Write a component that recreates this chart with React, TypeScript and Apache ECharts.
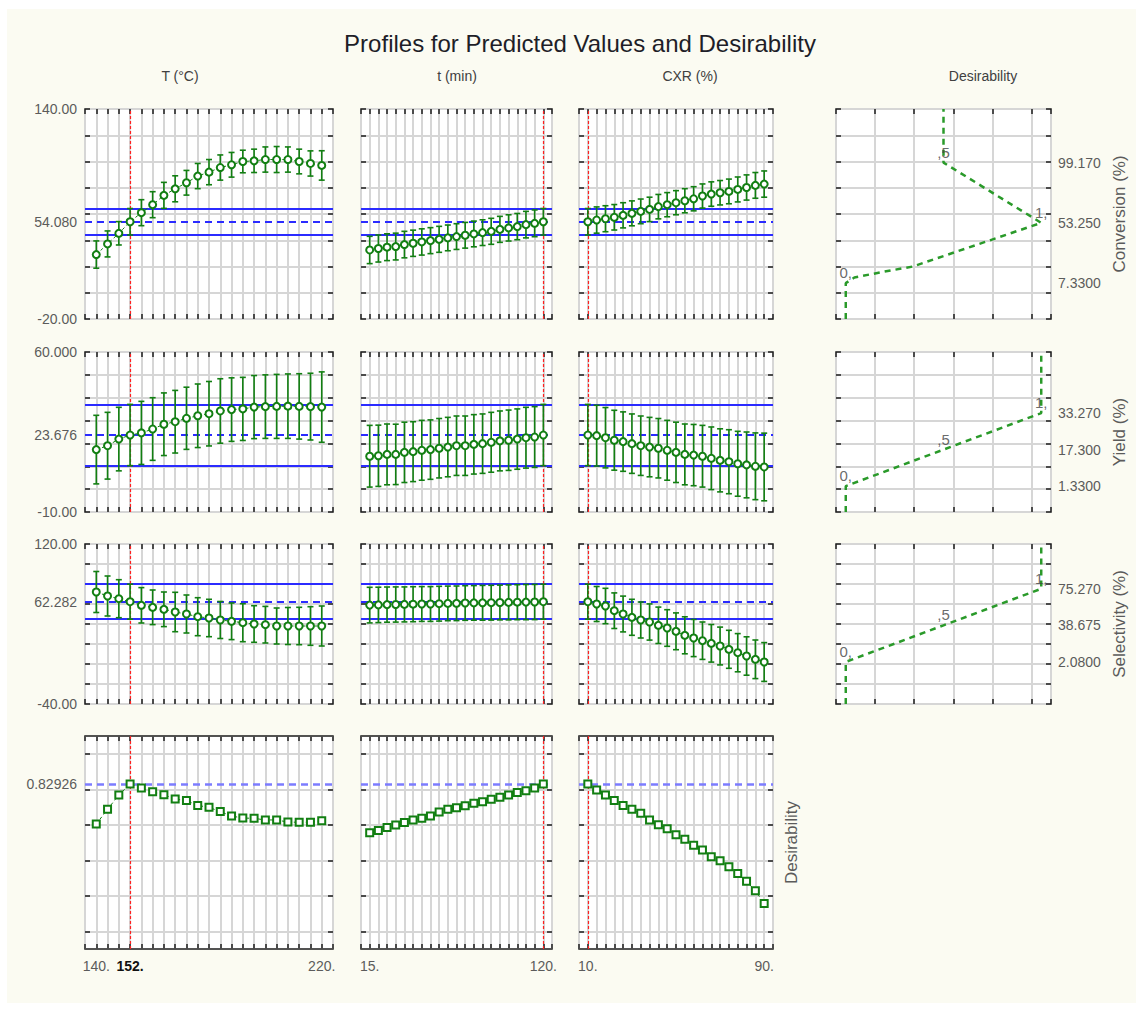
import React, { useEffect, useRef } from 'react';
import * as echarts from 'echarts';

// ---------- factor levels (x values) ----------
const T_LEVELS = [140, 144, 148, 152, 156, 160, 164, 168, 172, 176, 180, 184, 188, 192, 196, 200, 204, 208, 212, 216, 220];
const TIME_LEVELS = [15, 20.25, 25.5, 30.75, 36, 41.25, 46.5, 51.75, 57, 62.25, 67.5, 72.75, 78, 83.25, 88.5, 93.75, 99, 104.25, 109.5, 114.75, 120];
const CXR_LEVELS = [10, 14, 18, 22, 26, 30, 34, 38, 42, 46, 50, 54, 58, 62, 66, 70, 74, 78, 82, 86, 90];

// ---------- Conversion (%) ----------
const CONV_VS_T = [29.1, 37.2, 45.3, 54.08, 61.0, 67.1, 74.2, 79.2, 83.8, 88.9, 91.9, 95.4, 97.5, 100.0, 100.5, 101.5, 101.5, 101.5, 100.0, 98.5, 97.0];
const CONV_VS_T_ERR = [10.4, 9.9, 8.9, 10.1, 9.9, 9.9, 9.9, 9.9, 9.4, 9.6, 9.6, 9.6, 9.4, 8.6, 8.9, 9.6, 9.9, 9.6, 9.4, 9.6, 11.2];
const CONV_VS_TIME = [32.6, 33.7, 34.7, 35.2, 36.7, 37.7, 38.7, 39.7, 40.7, 41.8, 42.8, 43.8, 44.8, 45.8, 46.8, 48.3, 49.4, 50.4, 51.9, 52.9, 54.08];
const CONV_VS_TIME_ERR = [10.4, 10.3, 10.2, 10.2, 10.1, 10.0, 10.0, 9.9, 9.9, 9.8, 9.8, 9.8, 9.8, 9.8, 9.9, 9.9, 10.0, 10.0, 10.1, 10.2, 10.1];
const CONV_VS_CXR = [54.08, 55.4, 56.4, 57.5, 59.0, 60.5, 62.0, 63.5, 65.6, 67.1, 68.6, 70.1, 71.6, 73.7, 75.2, 76.2, 77.2, 78.7, 80.2, 81.8, 82.8];
const CONV_VS_CXR_ERR = [10.1, 10.0, 9.9, 9.7, 9.6, 9.5, 9.4, 9.3, 9.3, 9.2, 9.2, 9.2, 9.2, 9.2, 9.3, 9.3, 9.4, 9.5, 9.6, 9.8, 10.0];

// ---------- Yield (%) ----------
const YIELD_VS_T = [17.3, 19.0, 21.9, 23.676, 24.6, 26.3, 28.4, 29.5, 31.0, 32.1, 33.0, 34.2, 34.8, 35.1, 35.9, 36.1, 36.2, 36.3, 36.2, 36.1, 35.9];
const YIELD_VS_T_ERR = [15.0, 14.6, 13.9, 13.4, 13.8, 13.7, 13.7, 13.7, 13.6, 13.9, 14.1, 14.1, 13.9, 13.8, 13.8, 13.9, 14.0, 14.1, 14.3, 14.6, 15.4];
const YIELD_VS_TIME = [14.4, 14.6, 15.2, 15.2, 16.1, 16.4, 17.0, 17.3, 17.9, 18.4, 19.0, 19.0, 19.6, 19.9, 20.5, 21.1, 21.4, 21.9, 22.5, 22.8, 23.676];
const YIELD_VS_TIME_ERR = [13.5, 13.4, 13.3, 13.2, 13.2, 13.1, 13.1, 13.0, 13.0, 13.0, 13.0, 13.0, 13.0, 13.0, 13.1, 13.1, 13.2, 13.2, 13.3, 13.3, 13.4];
const YIELD_VS_CXR = [23.676, 23.4, 22.5, 21.4, 20.8, 19.9, 19.0, 18.4, 17.9, 17.0, 16.1, 15.2, 14.9, 14.4, 13.5, 12.6, 12.0, 11.1, 10.6, 10.0, 9.7];
const YIELD_VS_CXR_ERR = [13.4, 13.3, 13.2, 13.1, 13.0, 13.0, 13.0, 13.0, 13.0, 13.1, 13.2, 13.3, 13.4, 13.5, 13.7, 13.8, 14.0, 14.2, 14.4, 14.6, 14.8];

// ---------- Selectivity (%) ----------
const SEL_VS_T = [72.0, 68.0, 65.3, 62.282, 58.7, 56.7, 54.7, 52.0, 50.0, 47.3, 46.0, 44.0, 42.7, 41.3, 40.0, 39.3, 38.0, 38.0, 38.0, 38.0, 38.0];
const SEL_VS_T_ERR = [20.5, 20.0, 19.0, 17.5, 17.7, 17.3, 17.3, 19.7, 19.0, 19.0, 18.7, 18.5, 18.3, 19.0, 18.3, 18.3, 18.0, 18.5, 18.7, 19.3, 20.0];
const SEL_VS_TIME = [58.9, 59.1, 59.4, 59.5, 59.6, 59.8, 60.0, 60.0, 60.3, 60.6, 60.7, 61.0, 61.1, 61.2, 61.3, 61.5, 61.6, 61.8, 61.9, 62.0, 62.282];
const SEL_VS_TIME_ERR = [17.8, 17.7, 17.6, 17.6, 17.5, 17.5, 17.4, 17.4, 17.4, 17.3, 17.3, 17.3, 17.3, 17.4, 17.4, 17.4, 17.5, 17.5, 17.6, 17.6, 17.5];
const SEL_VS_CXR = [62.282, 60.0, 58.0, 53.3, 50.0, 46.7, 44.0, 42.0, 38.7, 36.0, 32.7, 28.7, 26.0, 23.3, 20.7, 18.0, 14.7, 11.3, 8.0, 4.7, 2.0];
const SEL_VS_CXR_ERR = [17.5, 17.5, 17.7, 17.8, 17.9, 18.0, 18.0, 18.1, 18.2, 18.3, 18.4, 18.5, 18.6, 18.7, 18.8, 18.9, 19.0, 19.1, 19.2, 19.3, 19.4];

// ---------- Overall desirability ----------
const DES_VS_T = [0.604, 0.687, 0.768, 0.82926, 0.807, 0.786, 0.769, 0.745, 0.736, 0.709, 0.698, 0.674, 0.649, 0.638, 0.636, 0.627, 0.627, 0.615, 0.614, 0.614, 0.623];
const DES_VS_TIME = [0.555, 0.567, 0.585, 0.599, 0.612, 0.627, 0.636, 0.649, 0.672, 0.687, 0.696, 0.707, 0.721, 0.730, 0.743, 0.755, 0.768, 0.781, 0.792, 0.807, 0.82926];
const DES_VS_CXR = [0.82926, 0.796, 0.768, 0.736, 0.709, 0.687, 0.665, 0.627, 0.600, 0.578, 0.544, 0.518, 0.484, 0.458, 0.420, 0.397, 0.364, 0.326, 0.281, 0.228, 0.157];

// ---------- current settings / predictions ----------
const FACTOR_NAMES = ['T (°C)', 't (min)', 'CXR (%)'];
const RESPONSE_NAMES = ['Conversion (%)', 'Yield (%)', 'Selectivity (%)'];
const CURRENT_SETTINGS = [152, 120, 10];
const PREDICTED = [54.08, 23.676, 62.282, 0.82926];
const CI_LOW = [44.0, 10.3, 44.8];
const CI_HIGH = [64.2, 37.1, 79.8];

// ---------- axes ----------
const X_MIN = [136, 9.75, 6];
const X_MAX = [224, 125.25, 94];
const X_STEP = [4, 5.25, 4];
const X_LABELS = [[140, 152, 220], [15, 120], [10, 90]];
const Y_MIN = [-20, -10, -40, -0.1];
const Y_MAX = [140, 60, 120, 1.1];
const Y_STEP = [20, 10, 20];
const DES_GRID_VALUES = [0, 0.2, 0.4, 0.6, 0.8, 1.0];

// ---------- desirability functions (desirability, response) ----------
const DESIR_LOW = [7.33, 1.33, 2.08];
const DESIR_MID = [53.25, 17.3, 38.675];
const DESIR_HIGH = [99.17, 33.27, 75.27];
const DESIR_CONV_CURVE = [[0, -20], [0, 7.33], [0.044, 11.6], [0.19, 15.9], [0.343, 20.0], [1, 53.25], [0.5, 99.17], [0.5, 140]];
const DESIR_YIELD_CURVE = [[0, -10], [0, 1.33], [0.5, 17.3], [1, 33.27], [1, 60]];
const DESIR_SEL_CURVE = [[0, -40], [0, 2.08], [0.5, 38.675], [1, 75.27], [1, 120]];
const DESIR_CONV_ANCHORS = [[0, 7.33, '0,'], [1, 53.25, '1,'], [0.5, 99.17, ',5']];
const DESIR_YIELD_ANCHORS = [[0, 1.33, '0,'], [0.5, 17.3, ',5'], [1, 33.27, '1,']];
const DESIR_SEL_ANCHORS = [[0, 2.08, '0,'], [0.5, 38.675, ',5'], [1, 75.27, '1,']];

// ---------- layout ----------
const OFF_X = 7;
const OFF_Y = 9;
const COL_LEFT = [85, 361, 579, 836];
const COL_WIDTH = [248, 191, 194, 215];
const ROW_TOP = [109, 352, 544, 736];
const ROW_HEIGHT = [210, 160, 160, 213];
const HEADER_CENTER = [180, 457, 690, 983];

const FONT = "'Liberation Sans', Arial, sans-serif";
const GREEN = '#127f12';
const BLUE = '#2b2bff';
const LIGHT_BLUE = '#7c7cff';
const RED = '#ff2020';
const GRID_LINE = '#d6d6d6';
const FRAME = '#1c1c1c';
const LABEL = '#5b5b5b';

const fmt = (v: number) => (v < 0 ? v.toPrecision(4) : v.toPrecision(5));

const LEVELS = [T_LEVELS, TIME_LEVELS, CXR_LEVELS];
const VALUES = [
  [CONV_VS_T, CONV_VS_TIME, CONV_VS_CXR],
  [YIELD_VS_T, YIELD_VS_TIME, YIELD_VS_CXR],
  [SEL_VS_T, SEL_VS_TIME, SEL_VS_CXR],
  [DES_VS_T, DES_VS_TIME, DES_VS_CXR],
];
const ERRORS = [
  [CONV_VS_T_ERR, CONV_VS_TIME_ERR, CONV_VS_CXR_ERR],
  [YIELD_VS_T_ERR, YIELD_VS_TIME_ERR, YIELD_VS_CXR_ERR],
  [SEL_VS_T_ERR, SEL_VS_TIME_ERR, SEL_VS_CXR_ERR],
];
const DESIR_CURVES = [DESIR_CONV_CURVE, DESIR_YIELD_CURVE, DESIR_SEL_CURVE];
const DESIR_ANCHORS = [DESIR_CONV_ANCHORS, DESIR_YIELD_ANCHORS, DESIR_SEL_ANCHORS];

const tickStyle = { show: true, inside: true, length: 5, lineStyle: { color: FRAME, width: 1.5 } };
const noLine = { show: false, onZero: false };

function buildOption() {
  const grid: any[] = [];
  const xAxis: any[] = [];
  const yAxis: any[] = [];
  const series: any[] = [];
  const title: any[] = [];

  title.push({
    text: 'Profiles for Predicted Values and Desirability',
    left: 580 - OFF_X,
    top: 31 - OFF_Y,
    textAlign: 'center',
    padding: 0,
    textStyle: { fontFamily: FONT, fontSize: 24, fontWeight: 'normal', color: '#1e1e28' },
  });
  const headers = [...FACTOR_NAMES, 'Desirability'];
  headers.forEach((h, i) => {
    title.push({
      text: h,
      left: HEADER_CENTER[i] - OFF_X,
      top: 69 - OFF_Y,
      textAlign: 'center',
      padding: 0,
      textStyle: { fontFamily: FONT, fontSize: 14, fontWeight: 'normal', color: '#404040' },
    });
  });

  const addGrid = (r: number, c: number) => {
    grid.push({
      left: COL_LEFT[c] - OFF_X,
      top: ROW_TOP[r] - OFF_Y,
      width: COL_WIDTH[c],
      height: ROW_HEIGHT[r],
      show: true,
      backgroundColor: '#ffffff',
      borderColor: FRAME,
      borderWidth: 1.5,
    });
    return grid.length - 1;
  };

  // ---------- profile panels ----------
  for (let r = 0; r < 4; r++) {
    for (let c = 0; c < 3; c++) {
      const g = addGrid(r, c);
      const xi = xAxis.length;
      const isBottom = r === 3;
      xAxis.push({
        type: 'value', gridIndex: g, min: X_MIN[c], max: X_MAX[c], interval: X_STEP[c],
        axisLine: noLine, axisTick: tickStyle,
        splitLine: { show: true, lineStyle: { color: GRID_LINE, width: 2 } },
        axisLabel: isBottom
          ? {
              show: true, customValues: X_LABELS[c], margin: 10, fontFamily: FONT, fontSize: 14, color: LABEL,
              formatter: (v: number) => (v === CURRENT_SETTINGS[c] && X_LABELS[c].length === 3 ? `{b|${v}.}` : `${v}.`),
              rich: { b: { fontFamily: FONT, fontSize: 14, fontWeight: 'bold', color: '#111' } },
            }
          : { show: false },
      });
      xAxis.push({
        type: 'value', gridIndex: g, position: 'top', min: X_MIN[c], max: X_MAX[c], interval: X_STEP[c],
        axisLine: noLine, axisTick: tickStyle, splitLine: { show: false }, axisLabel: { show: false },
      });
      const yi = yAxis.length;
      const yBase: any = { type: 'value', gridIndex: g, min: Y_MIN[r], max: Y_MAX[r] };
      if (r < 3) yBase.interval = Y_STEP[r];
      const tick = r < 3 ? tickStyle : { ...tickStyle, customValues: DES_GRID_VALUES };
      yAxis.push({
        ...yBase,
        axisLine: noLine, axisTick: tick,
        splitLine: { show: true, lineStyle: { color: GRID_LINE, width: 2 } },
        axisLabel: c === 0
          ? {
              show: true, margin: 8, fontFamily: FONT, fontSize: 14, color: LABEL,
              customValues: r < 3 ? [Y_MIN[r], PREDICTED[r], Y_MAX[r]] : [PREDICTED[3]],
              formatter: (v: number) => fmt(v),
            }
          : { show: false },
      });
      const rightY: any = {
        ...yBase, position: 'right',
        axisLine: noLine, axisTick: tick, splitLine: { show: false }, axisLabel: { show: false },
      };
      if (r === 3 && c === 2) {
        rightY.name = 'Desirability';
        rightY.nameLocation = 'middle';
        rightY.nameGap = 10;
        rightY.nameRotate = 90;
        rightY.nameTextStyle = { fontFamily: FONT, fontSize: 17, color: LABEL };
      }
      yAxis.push(rightY);

      const xs = LEVELS[c];
      const vals = VALUES[r][c];
      const markData: any[] = [];
      if (r < 3) {
        markData.push({ yAxis: CI_LOW[r], lineStyle: { color: BLUE, width: 2, type: 'solid' } });
        markData.push({ yAxis: CI_HIGH[r], lineStyle: { color: BLUE, width: 2, type: 'solid' } });
        markData.push({ yAxis: PREDICTED[r], lineStyle: { color: BLUE, width: 2, type: [7, 5] } });
      } else {
        markData.push({ yAxis: PREDICTED[3], lineStyle: { color: LIGHT_BLUE, width: 2.5, type: [7, 5] } });
      }
      markData.push({ xAxis: CURRENT_SETTINGS[c], lineStyle: { color: RED, width: 1.2, type: [3, 2] } });

      if (r < 3) {
        const errs = ERRORS[r][c];
        series.push({
          type: 'custom', xAxisIndex: xi, yAxisIndex: yi, z: 4, silent: true,
          data: xs.map((x, i) => [x, vals[i] - errs[i], vals[i] + errs[i]]),
          encode: { x: 0, y: [1, 2] },
          renderItem: (params: any, api: any) => {
            const x = api.value(0);
            const top = api.coord([x, api.value(2)]);
            const bot = api.coord([x, api.value(1)]);
            const cap = 3;
            const style = { stroke: GREEN, lineWidth: 1.6, fill: 'none' };
            return {
              type: 'group',
              children: [
                { type: 'line', shape: { x1: top[0], y1: top[1], x2: bot[0], y2: bot[1] }, style },
                { type: 'line', shape: { x1: top[0] - cap, y1: top[1], x2: top[0] + cap, y2: top[1] }, style },
                { type: 'line', shape: { x1: bot[0] - cap, y1: bot[1], x2: bot[0] + cap, y2: bot[1] }, style },
              ],
            };
          },
        });
      }
      series.push({
        type: 'line', xAxisIndex: xi, yAxisIndex: yi, z: 5, silent: true,
        data: xs.map((x, i) => [x, vals[i]]),
        symbol: r < 3 ? 'emptyCircle' : 'emptyRect',
        symbolSize: 7,
        itemStyle: { color: GREEN, borderColor: GREEN, borderWidth: 1.7 },
        lineStyle: { color: GREEN, width: 1, type: [3, 3] },
        markLine: { silent: true, symbol: ['none', 'none'], label: { show: false }, animation: false, z: 3, data: markData },
      });
    }
  }

  // ---------- desirability function panels ----------
  for (let r = 0; r < 3; r++) {
    const g = addGrid(r, 3);
    const xi = xAxis.length;
    xAxis.push({
      type: 'value', gridIndex: g, min: -0.05, max: 1.05, interval: 0.2,
      axisLine: noLine, axisTick: tickStyle,
      splitLine: { show: true, lineStyle: { color: GRID_LINE, width: 2 } }, axisLabel: { show: false },
    });
    xAxis.push({
      type: 'value', gridIndex: g, position: 'top', min: -0.05, max: 1.05, interval: 0.2,
      axisLine: noLine, axisTick: tickStyle, splitLine: { show: false }, axisLabel: { show: false },
    });
    const yi = yAxis.length;
    yAxis.push({
      type: 'value', gridIndex: g, min: Y_MIN[r], max: Y_MAX[r], interval: Y_STEP[r],
      axisLine: noLine, axisTick: tickStyle,
      splitLine: { show: true, lineStyle: { color: GRID_LINE, width: 2 } }, axisLabel: { show: false },
    });
    yAxis.push({
      type: 'value', gridIndex: g, position: 'right', min: Y_MIN[r], max: Y_MAX[r], interval: Y_STEP[r],
      axisLine: noLine, axisTick: tickStyle, splitLine: { show: false },
      axisLabel: {
        show: true, margin: 7, fontFamily: FONT, fontSize: 14, color: LABEL,
        customValues: [DESIR_LOW[r], DESIR_MID[r], DESIR_HIGH[r]],
        formatter: (v: number) => fmt(v),
      },
      name: RESPONSE_NAMES[r], nameLocation: 'middle', nameGap: 60, nameRotate: 90,
      nameTextStyle: { fontFamily: FONT, fontSize: 17, color: LABEL },
    });
    series.push({
      type: 'line', xAxisIndex: xi, yAxisIndex: yi, silent: true, z: 5,
      data: DESIR_CURVES[r], symbol: 'none',
      lineStyle: { color: '#2a9a2a', width: 2.5, type: [6, 5] },
    });
    series.push({
      type: 'scatter', xAxisIndex: xi, yAxisIndex: yi, silent: true, z: 6,
      data: DESIR_ANCHORS[r].map((a) => ({ value: [a[0], a[1]], name: a[2] })),
      symbolSize: 2, itemStyle: { color: 'rgba(0,0,0,0)' },
      label: { show: true, position: 'top', distance: 2, formatter: '{b}', fontFamily: FONT, fontSize: 15, color: '#444' },
    });
  }

  return {
    animation: false,
    backgroundColor: '#fbfbf2',
    title, grid, xAxis, yAxis, series,
  };
}

export default function App() {
  const ref = useRef<HTMLDivElement>(null);
  useEffect(() => {
    if (!ref.current) return;
    const chart = echarts.init(ref.current, undefined, { renderer: 'svg' });
    chart.setOption(buildOption() as any);
    return () => chart.dispose();
  }, []);
  return (
    <div style={{ position: 'absolute', left: 0, top: 0, width: 1136, height: 1012, background: '#ffffff' }}>
      <div ref={ref} style={{ position: 'absolute', left: OFF_X, top: OFF_Y, width: 1136 - OFF_X, height: 1003 - OFF_Y }} />
    </div>
  );
}
